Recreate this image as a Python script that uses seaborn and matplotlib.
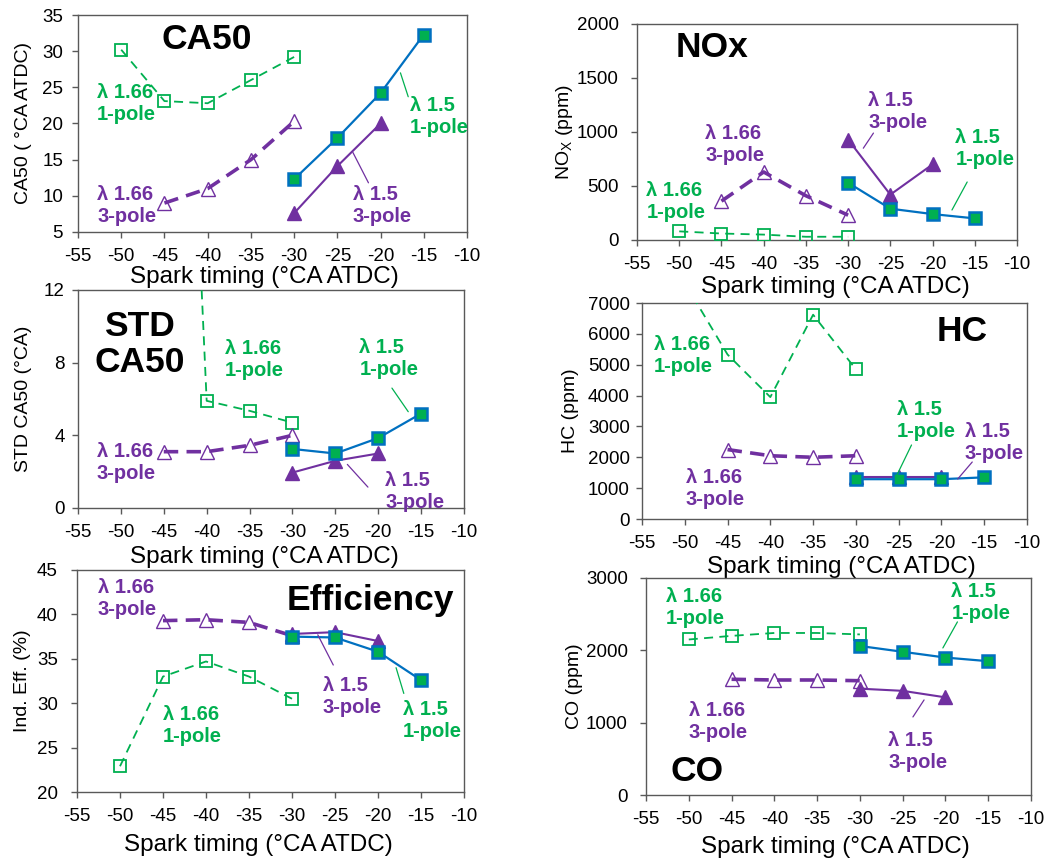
import matplotlib
matplotlib.use("Agg")
import matplotlib.pyplot as plt
import seaborn as sns
import pandas as pd

# ---------------- data ----------------
x_166 = [-50, -45, -40, -35, -30]
x_166_3p = [-45, -40, -35, -30]
x_15_1p = [-30, -25, -20, -15]
x_15_3p = [-30, -25, -20]

ca50_166_1p = [30.2, 23.1, 22.8, 26.0, 29.2]
ca50_166_3p = [9.0, 11.0, 15.0, 20.3]
ca50_15_1p = [12.3, 18.0, 24.2, 32.3]
ca50_15_3p = [7.6, 14.1, 20.0]

nox_166_1p = [80, 60, 50, 30, 30]
nox_166_3p = [360, 630, 410, 230]
nox_15_1p = [530, 290, 240, 200]
nox_15_3p = [930, 420, 700]

std_166_1p = [60.0, 58.0, 5.9, 5.35, 4.7]
std_166_3p = [3.1, 3.1, 3.45, 4.0]
std_15_1p = [3.25, 3.0, 3.85, 5.2]
std_15_3p = [1.95, 2.6, 3.0]

hc_166_1p = [7650, 5330, 3950, 6620, 4850]
hc_166_3p = [2250, 2050, 2000, 2050]
hc_15_1p = [1290, 1290, 1290, 1350]
hc_15_3p = [1350, 1350, 1350]

eff_166_1p = [22.9, 33.0, 34.7, 33.0, 30.5]
eff_166_3p = [39.3, 39.4, 39.1, 37.6]
eff_15_1p = [37.5, 37.4, 35.8, 32.6]
eff_15_3p = [37.8, 38.0, 37.0]

co_166_1p = [2150, 2200, 2240, 2240, 2220]
co_166_3p = [1600, 1590, 1590, 1580]
co_15_1p = [2060, 1980, 1900, 1850]
co_15_3p = [1470, 1440, 1350]

x_ticks = [-55, -50, -45, -40, -35, -30, -25, -20, -15, -10]
x_label = "Spark timing (°CA ATDC)"

# ---------------- style ----------------
sns.set_theme(style="white")
plt.rcParams["font.family"] = ["Liberation Sans", "DejaVu Sans"]
plt.rcParams["mathtext.default"] = "regular"
plt.rcParams["axes.unicode_minus"] = False

GREEN = "#00B050"
PURPLE = "#7030A0"
BLUE = "#0070C0"
SPINE = "#595959"

fig = plt.figure(figsize=(10.5, 8.63), dpi=100)

W, H = 1050, 863


def make_ax(left, right, top, bottom):
    return fig.add_axes([left / W, 1 - bottom / H, (right - left) / W, (bottom - top) / H])


def draw_series(ax, d166_1p, d166_3p, d15_1p, d15_3p):
    sns.lineplot(x=x_166, y=d166_1p, ax=ax, color=GREEN, lw=1.3,
                 linestyle=(0, (5, 3.5)), marker="s", markersize=8.5,
                 markerfacecolor="none", markeredgecolor=GREEN,
                 markeredgewidth=1.3, sort=False, legend=False, zorder=3)
    sns.lineplot(x=x_166_3p, y=d166_3p, ax=ax, color=PURPLE, lw=2.6,
                 linestyle=(0, (4, 2.3)), marker="^", markersize=10,
                 markerfacecolor="none", markeredgecolor=PURPLE,
                 markeredgewidth=1.0, sort=False, legend=False, zorder=3)
    sns.lineplot(x=x_15_3p, y=d15_3p, ax=ax, color=PURPLE, lw=1.5,
                 linestyle="-", marker="^", markersize=10,
                 markerfacecolor=PURPLE, markeredgecolor=PURPLE,
                 markeredgewidth=1.0, sort=False, legend=False, zorder=4)
    sns.lineplot(x=x_15_1p, y=d15_1p, ax=ax, color=BLUE, lw=1.6,
                 linestyle="-", marker="s", markersize=9,
                 markerfacecolor=GREEN, markeredgecolor=BLUE,
                 markeredgewidth=1.8, sort=False, legend=False, zorder=5)


def style_ax(ax, ylim, yticks, ylabel, ypad, xlab_xy, ylab_x):
    ax.set_xlim(-55, -10)
    ax.set_ylim(*ylim)
    ax.set_xticks(x_ticks)
    ax.set_yticks(yticks)
    ax.set_xlabel(x_label, fontsize=17.5, color="black")
    ax.set_ylabel(ylabel, fontsize=14, color="black")
    ax.xaxis.set_label_coords(*xlab_xy)
    ax.yaxis.set_label_coords(ylab_x, 0.5)
    for s in ax.spines.values():
        s.set_visible(True)
        s.set_color(SPINE)
        s.set_linewidth(1.0)
    ax.tick_params(axis="both", direction="out", length=4, width=1,
                   color=SPINE, labelsize=13.5, labelcolor="black")
    ax.tick_params(axis="x", bottom=True, top=False, pad=7.5)
    ax.tick_params(axis="y", left=True, right=False, pad=ypad)
    ax.grid(False)


def label(ax, x, y, text, color, ha="left"):
    ax.text(x, y, text, color=color, fontsize=14.5, fontweight="bold",
            ha=ha, va="center", linespacing=1.2, zorder=6)


def leader(ax, p0, p1, color):
    ax.plot([p0[0], p1[0]], [p0[1], p1[1]], color=color, lw=0.9, zorder=6)


def title(ax, x, y, text):
    ax.text(x, y, text, color="black", fontsize=25.5, fontweight="bold",
            ha="center", va="center", linespacing=1.1, zorder=6)


# ---- CA50 ----
ax1 = make_ax(78, 467, 15, 232)
draw_series(ax1, ca50_166_1p, ca50_166_3p, ca50_15_1p, ca50_15_3p)
style_ax(ax1, (5, 35), [5, 10, 15, 20, 25, 30, 35], "CA50 ( °CA ATDC)",
         6.8, (0.478, -0.157), -0.118)
title(ax1, -40.1, 31.6, "CA50")
label(ax1, -52.8, 22.8, "λ 1.66\n1-pole", GREEN)
label(ax1, -52.8, 8.6, "λ 1.66\n3-pole", PURPLE)
label(ax1, -23.2, 8.6, "λ 1.5\n3-pole", PURPLE)
label(ax1, -16.6, 21.0, "λ 1.5\n1-pole", GREEN)
leader(ax1, (-21.4, 11.8), (-23.2, 16.0), PURPLE)
leader(ax1, (-16.8, 23.7), (-17.7, 27.0), GREEN)

# ---- NOx ----
ax2 = make_ax(637, 1017, 24, 240)
draw_series(ax2, nox_166_1p, nox_166_3p, nox_15_1p, nox_15_3p)
style_ax(ax2, (0, 2000), [0, 500, 1000, 1500, 2000], "NO$_X$ (ppm)",
         9, (0.521, -0.167), -0.163)
title(ax2, -46.1, 1787, "NOx")
label(ax2, -46.9, 880, "λ 1.66\n3-pole", PURPLE)
label(ax2, -53.9, 352, "λ 1.66\n1-pole", GREEN)
label(ax2, -27.6, 1194, "λ 1.5\n3-pole", PURPLE)
label(ax2, -17.3, 843, "λ 1.5\n1-pole", GREEN)
leader(ax2, (-27.0, 990), (-28.2, 850), PURPLE)
leader(ax2, (-15.9, 537), (-17.7, 278), GREEN)

# ---- STD CA50 ----
ax3 = make_ax(78, 464, 290, 508)
draw_series(ax3, std_166_1p, std_166_3p, std_15_1p, std_15_3p)
style_ax(ax3, (0, 12), [0, 4, 8, 12], "STD CA50 (°CA)",
         5.4, (0.484, -0.174), -0.118)
title(ax3, -47.8, 9.0, "STD\nCA50")
label(ax3, -37.9, 8.15, "λ 1.66\n1-pole", GREEN)
label(ax3, -22.2, 8.25, "λ 1.5\n1-pole", GREEN)
label(ax3, -52.8, 2.5, "λ 1.66\n3-pole", PURPLE)
label(ax3, -19.2, 0.9, "λ 1.5\n3-pole", PURPLE)
leader(ax3, (-18.4, 6.6), (-16.5, 5.3), GREEN)
leader(ax3, (-21.2, 1.15), (-23.6, 2.4), PURPLE)

# ---- HC ----
ax4 = make_ax(642, 1027, 303, 519)
draw_series(ax4, hc_166_1p, hc_166_3p, hc_15_1p, hc_15_3p)
style_ax(ax4, (0, 7000), [0, 1000, 2000, 3000, 4000, 5000, 6000, 7000], "HC (ppm)",
         4.7, (0.519, -0.171), -0.164)
title(ax4, -17.6, 6092, "HC")
label(ax4, -53.6, 5314, "λ 1.66\n1-pole", GREEN)
label(ax4, -49.9, 1004, "λ 1.66\n3-pole", PURPLE)
label(ax4, -25.2, 3208, "λ 1.5\n1-pole", GREEN)
label(ax4, -17.3, 2495, "λ 1.5\n3-pole", PURPLE)
leader(ax4, (-23.5, 2398), (-25.2, 1426), GREEN)
leader(ax4, (-16.4, 1847), (-18.1, 1296), PURPLE)

# ---- Efficiency ----
ax5 = make_ax(77, 464, 570, 792)
draw_series(ax5, eff_166_1p, eff_166_3p, eff_15_1p, eff_15_3p)
style_ax(ax5, (20, 45), [20, 25, 30, 35, 40, 45], "Ind. Eff. (%)",
         9.7, (0.468, -0.189), -0.119)
title(ax5, -20.9, 41.6, "Efficiency")
label(ax5, -52.6, 41.8, "λ 1.66\n3-pole", PURPLE)
label(ax5, -45.0, 27.5, "λ 1.66\n1-pole", GREEN)
label(ax5, -26.4, 30.7, "λ 1.5\n3-pole", PURPLE)
label(ax5, -17.1, 28.1, "λ 1.5\n1-pole", GREEN)
leader(ax5, (-25.2, 34.3), (-27.0, 37.7), PURPLE)
leader(ax5, (-17.0, 31.1), (-17.9, 34.0), GREEN)

# ---- CO ----
ax6 = make_ax(646, 1031, 578, 795)
draw_series(ax6, co_166_1p, co_166_3p, co_15_1p, co_15_3p)
style_ax(ax6, (0, 3000), [0, 1000, 2000, 3000], "CO (ppm)",
         9, (0.491, -0.189), -0.164)
title(ax6, -49.0, 318, "CO")
label(ax6, -52.7, 2587, "λ 1.66\n1-pole", GREEN)
label(ax6, -50.0, 1023, "λ 1.66\n3-pole", PURPLE)
label(ax6, -19.3, 2656, "λ 1.5\n1-pole", GREEN)
label(ax6, -26.7, 595, "λ 1.5\n3-pole", PURPLE)
leader(ax6, (-18.6, 2393), (-20.3, 2033), GREEN)
leader(ax6, (-23.8, 1079), (-22.5, 1314), PURPLE)

fig.savefig("out.png", dpi=100, facecolor="white")
